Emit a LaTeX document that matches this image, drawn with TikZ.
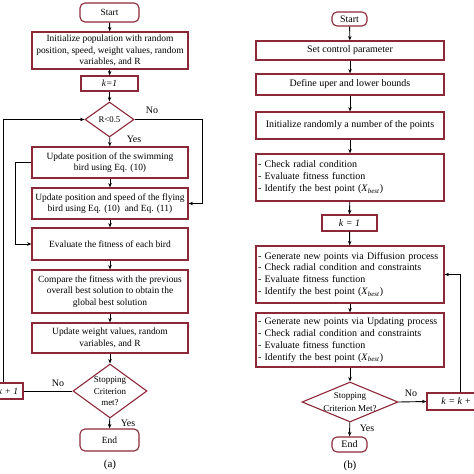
\documentclass[tikz,border=0pt]{standalone}
\usepackage{fontspec}
\setmainfont{Liberation Serif}
\usetikzlibrary{shapes.geometric,arrows.meta}
\definecolor{boxred}{RGB}{140,40,56}
\begin{document}
\begin{tikzpicture}[x=1bp,y=-1bp,
  box/.style={draw=boxred,line width=1.1bp,rectangle,inner sep=1bp,align=center,font=\fontsize{9.5}{11.5}\selectfont},
  boxb/.style={box,font=\fontsize{10}{12}\selectfont},
  lbox/.style={box,align=left,inner xsep=2bp,text width=184bp,font=\fontsize{10}{12}\selectfont},
  term/.style={box,rounded corners=5bp,font=\fontsize{9.5}{11.5}\selectfont},
  dia/.style={draw=boxred,line width=1.1bp,diamond,inner sep=0pt},
  diatext/.style={inner sep=0pt,align=center,font=\fontsize{9}{11.5}\selectfont},
  arr/.style={-{Stealth[length=4.5bp,width=3.5bp]},line width=0.9bp},
  lin/.style={line width=0.9bp},
  lab/.style={inner sep=0pt,font=\fontsize{10}{12}\selectfont}]
\useasboundingbox (0,0) rectangle (474,474);
% ---------- (a) ----------
\node[term,minimum width=59bp,minimum height=19bp] (s1) at (109.5,12.5) {Start};
\node[box,minimum width=156bp,minimum height=37bp] (i1) at (110,50.5) {Initialize population with random\\position, speed, weight values, random\\variables, and R};
\node[box,minimum width=57bp,minimum height=15bp] (k1) at (109.5,83.5) {\textit{k=1}};
\node[dia,minimum width=49bp,minimum height=35bp] (d1) at (109.5,119.5) {};
\node[diatext,font=\fontsize{8.8}{10}\selectfont] (d1t) at (d1) {R<0.5};
\node[box,minimum width=156bp,minimum height=31bp] (sw) at (110,162.5) {Update position of the swimming\\bird using Eq. (10)};
\node[box,minimum width=156bp,minimum height=31bp] (fl) at (110,203.5) {Update position and speed of the flying\\bird using Eq. (10)\ \ and Eq. (11)};
\node[box,minimum width=156bp,minimum height=32bp] (ev) at (110,244) {Evaluate the fitness of each bird};
\node[box,minimum width=156bp,minimum height=43bp] (cp) at (110,291.5) {Compare the fitness with the previous\\overall best solution to obtain the\\global best solution};
\node[box,minimum width=156bp,minimum height=30bp] (up) at (110,338) {Update weight values, random\\variables, and R};
\node[dia,minimum width=74bp,minimum height=54bp] (d2) at (110,391) {};
\node[diatext] (d2t) at (110,391.5) {Stopping\\Criterion\\met?};
\node[box,minimum width=30bp,minimum height=16bp] (kp) at (8,391) {\textit{k + 1}};
\node[term,minimum width=59bp,minimum height=22bp] (e1) at (109.5,440) {End};
\node[lab,font=\fontsize{11}{13}\selectfont] (ca) at (110,465) {(a)};
\coordinate (lx) at (3,0);
\coordinate (lx2) at (15,0);
\coordinate (rx) at (202,0);
\draw[arr] (s1) -- (i1);
\draw[arr] (i1) -- (k1);
\draw[arr] (k1) -- (d1);
\draw[arr] (d1) -- (sw);
\draw[arr] (sw) -- (fl);
\draw[arr] (fl) -- (ev);
\draw[arr] (ev) -- (cp);
\draw[arr] (cp) -- (up);
\draw[arr] (up) -- (d2);
\draw[arr] (d2) -- (e1);
\draw[arr] (d1.east) -- (d1.east -| rx) |- (fl.east);
\draw[arr] (sw.west) -- (sw.west -| lx2) |- (ev.west);
\draw[lin] (d2.west) -- (kp.east);
\draw[arr] (kp.north -| lx) |- (d1.west);
\node[lab] (no1) at (152,110) {No};
\node[lab] (ye1) at (134,139) {Yes};
\node[lab] (no2) at (58,383) {No};
\node[lab] (ye2) at (128,423) {Yes};
% ---------- (b) ----------
\node[term,font=\fontsize{10}{12}\selectfont,minimum width=35bp,minimum height=14bp] (s2) at (349.5,19) {Start};
\node[boxb,minimum width=188bp,minimum height=19bp] (sc) at (350,50.5) {Set control parameter};
\node[boxb,minimum width=188bp,minimum height=21bp] (db) at (350,84.5) {Define uper and lower bounds};
\node[boxb,minimum width=188bp,minimum height=27bp] (ir) at (350,125.5) {Initialize randomly a number of the points};
\node[lbox,minimum height=47bp] (ck) at (350,177.5) {- Check radial condition\\- Evaluate fitness function\\- Identify the best point (\textit{X}\textsubscript{\textit{best}})};
\node[boxb,minimum width=55bp,minimum height=16bp] (k2) at (349.5,223) {\textit{k = 1}};
\node[lbox,minimum height=57bp] (g1) at (350,274.5) {- Generate new points via Diffusion process\\- Check radial condition and constraints\\- Evaluate fitness function\\- Identify the best point (\textit{X}\textsubscript{\textit{best}})};
\node[lbox,minimum height=54bp] (g2) at (350,340) {- Generate new points via Updating process\\- Check radial condition and constraints\\- Evaluate fitness function\\- Identify the best point (\textit{X}\textsubscript{\textit{best}})};
\node[dia,minimum width=96bp,minimum height=40bp] (d3) at (350,402) {};
\node[diatext,font=\fontsize{9}{12.5}\selectfont] (d3t) at (350,402) {Stopping\\Criterion Met?};
\node[boxb,minimum width=66bp,minimum height=17bp] (kb) at (460,401.5) {\textit{k = k + 1}};
\node[term,font=\fontsize{10}{12}\selectfont,minimum width=35bp,minimum height=15bp] (e2) at (349.5,444.5) {End};
\node[lab,font=\fontsize{11}{13}\selectfont] (cb) at (350,466) {(b)};
\draw[arr] (s2) -- (sc);
\draw[arr] (sc) -- (db);
\draw[arr] (db) -- (ir);
\draw[arr] (ir) -- (ck);
\draw[arr] (ck) -- (k2);
\draw[arr] (k2) -- (g1);
\draw[arr] (g1) -- (g2);
\draw[arr] (g2) -- (d3);
\draw[arr] (d3) -- (e2);
\draw[arr] (d3.east) -- (kb.west);
\draw[arr] (kb.north) |- (g1.east);
\node[lab] (no3) at (411,393) {No};
\node[lab] (ye3) at (367,428) {Yes};
\end{tikzpicture}
\end{document}
